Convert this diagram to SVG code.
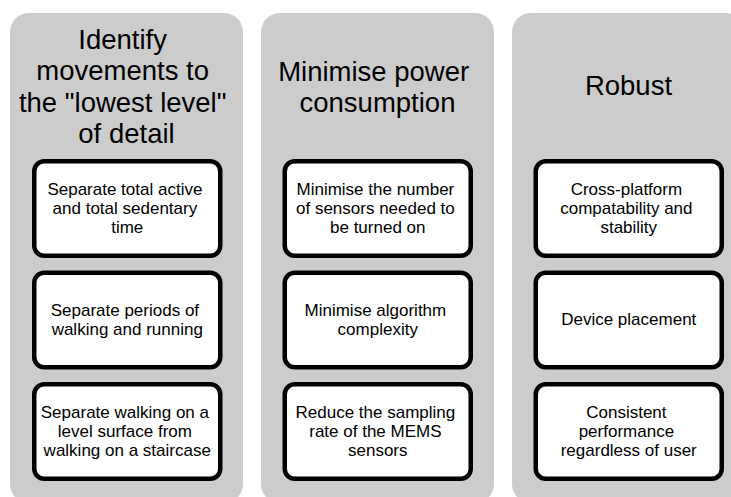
<svg xmlns="http://www.w3.org/2000/svg" width="731" height="497" viewBox="0 0 731 497">
  <style>
    .col { fill: #cccccc; }
    .box { fill: #ffffff; stroke: #000000; stroke-width: 4.5; }
    .title { font-family: "Liberation Sans", Arial, sans-serif; font-size: 27.5px; fill: #000000; text-anchor: middle; }
    .label { font-family: "Liberation Sans", Arial, sans-serif; font-size: 17px; fill: #000000; text-anchor: middle; }
  </style>
  <rect width="731" height="497" fill="#ffffff"/>

  <!-- Column 1 -->
  <g id="col-identify">
    <rect class="col" x="10" y="13" width="233" height="490" rx="19" ry="19"/>
    <text class="title">
      <tspan x="126.5" y="48.5">Identify</tspan>
      <tspan x="126.5" y="80">movements to</tspan>
      <tspan x="126.5" y="111.5">the "lowest level"</tspan>
      <tspan x="126.5" y="143">of detail</tspan>
    </text>
  </g>
  <g id="box-active-sedentary">
    <rect class="box" x="34.25" y="161.25" width="186" height="94.5" rx="10" ry="10"/>
    <text class="label">
      <tspan x="127.25" y="194.5">Separate total active</tspan>
      <tspan x="127.25" y="213.5">and total sedentary</tspan>
      <tspan x="127.25" y="232.5">time</tspan>
    </text>
  </g>
  <g id="box-walk-run">
    <rect class="box" x="34.25" y="272.75" width="186" height="94.5" rx="10" ry="10"/>
    <text class="label">
      <tspan x="127.25" y="315.5">Separate periods of</tspan>
      <tspan x="127.25" y="334.5">walking and running</tspan>
    </text>
  </g>
  <g id="box-level-stairs">
    <rect class="box" x="34.25" y="384.25" width="186" height="94.5" rx="10" ry="10"/>
    <text class="label">
      <tspan x="127.25" y="417.5">Separate walking on a</tspan>
      <tspan x="127.25" y="436.5">level surface from</tspan>
      <tspan x="127.25" y="455.5">walking on a staircase</tspan>
    </text>
  </g>

  <!-- Column 2 -->
  <g id="col-power">
    <rect class="col" x="261" y="13" width="233" height="490" rx="19" ry="19"/>
    <text class="title">
      <tspan x="377.5" y="80.5">Minimise power</tspan>
      <tspan x="377.5" y="112">consumption</tspan>
    </text>
  </g>
  <g id="box-sensors">
    <rect class="box" x="284.75" y="161.25" width="186" height="94.5" rx="10" ry="10"/>
    <text class="label">
      <tspan x="377.75" y="194.5">Minimise the number</tspan>
      <tspan x="377.75" y="213.5">of sensors needed to</tspan>
      <tspan x="377.75" y="232.5">be turned on</tspan>
    </text>
  </g>
  <g id="box-complexity">
    <rect class="box" x="284.75" y="272.75" width="186" height="94.5" rx="10" ry="10"/>
    <text class="label">
      <tspan x="377.75" y="315.5">Minimise algorithm</tspan>
      <tspan x="377.75" y="334.5">complexity</tspan>
    </text>
  </g>
  <g id="box-sampling">
    <rect class="box" x="284.75" y="384.25" width="186" height="94.5" rx="10" ry="10"/>
    <text class="label">
      <tspan x="377.75" y="417.5">Reduce the sampling</tspan>
      <tspan x="377.75" y="436.5">rate of the MEMS</tspan>
      <tspan x="377.75" y="455.5">sensors</tspan>
    </text>
  </g>

  <!-- Column 3 -->
  <g id="col-robust">
    <rect class="col" x="512" y="13" width="233" height="490" rx="19" ry="19"/>
    <text class="title" x="628.5" y="95">Robust</text>
  </g>
  <g id="box-cross-platform">
    <rect class="box" x="535.75" y="161.25" width="186" height="94.5" rx="10" ry="10"/>
    <text class="label">
      <tspan x="628.75" y="194.5">Cross-platform</tspan>
      <tspan x="628.75" y="213.5">compatability and</tspan>
      <tspan x="628.75" y="232.5">stability</tspan>
    </text>
  </g>
  <g id="box-placement">
    <rect class="box" x="535.75" y="272.75" width="186" height="94.5" rx="10" ry="10"/>
    <text class="label" x="628.75" y="325">Device placement</text>
  </g>
  <g id="box-consistent">
    <rect class="box" x="535.75" y="384.25" width="186" height="94.5" rx="10" ry="10"/>
    <text class="label">
      <tspan x="628.75" y="417.5">Consistent</tspan>
      <tspan x="628.75" y="436.5">performance</tspan>
      <tspan x="628.75" y="455.5">regardless of user</tspan>
    </text>
  </g>
</svg>
